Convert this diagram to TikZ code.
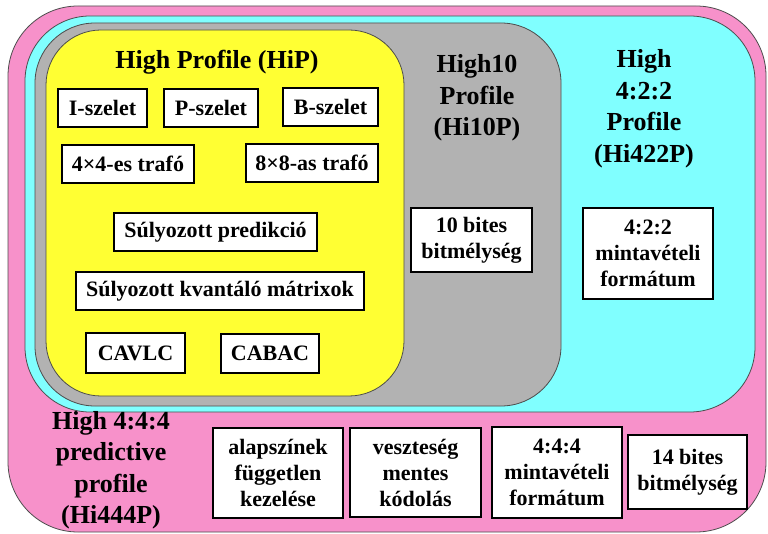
\documentclass[tikz,border=0pt]{standalone}
\usepackage{fontspec}
\setmainfont{Liberation Serif}
\definecolor{profpink}{RGB}{247,145,202}
\definecolor{profcyan}{RGB}{128,255,255}
\definecolor{profgray}{RGB}{178,178,178}
\definecolor{profyellow}{RGB}{255,255,51}
\begin{document}
\begin{tikzpicture}[x=1pt,y=-1pt,
  region/.style={draw=black!70,line width=0.8pt},
  feature/.style={draw=black,line width=2pt,fill=white,inner sep=0pt,align=center,
    font=\fontsize{22}{26}\selectfont\bfseries},
  proflabel/.style={align=center,inner sep=0pt,font=\fontsize{26}{31.5}\selectfont\bfseries}]
\useasboundingbox (0,0) rectangle (768,534);

% nested profile regions
\draw[region,fill=profpink,rounded corners=70pt] (8,6) rectangle (766,532);
\draw[region,fill=profcyan,rounded corners=65pt] (25,16) rectangle (755,412);
\draw[region,fill=profgray,rounded corners=60pt] (35,23) rectangle (561,406);
\draw[region,fill=profyellow,rounded corners=55pt] (46,30) rectangle (404,396);

% profile names
\node[proflabel] (hip) at (217,62) {High Profile (HiP)};
\node[proflabel] (hi10) at (477,98) {High10\\Profile\\(Hi10P)};
\node[proflabel] (hi422) at (644,109) {High\\4:2:2\\Profile\\(Hi422P)};
\node[proflabel] (hi444) at (111,470) {High 4:4:4\\predictive\\profile\\(Hi444P)};

% High Profile features
\node[feature,minimum width=89,minimum height=38] (islice) at (102.5,108) {I-szelet};
\node[feature,minimum width=94,minimum height=38] (pslice) at (211,108) {P-szelet};
\node[feature,minimum width=95,minimum height=38] (bslice) at (330.5,107) {B-szelet};
\node[feature,minimum width=132,minimum height=38] (t4) at (128,164) {4×4-es trafó};
\node[feature,minimum width=132,minimum height=38] (t8) at (312,163) {8×8-as trafó};
\node[feature,minimum width=203,minimum height=38] (wpred) at (215.5,232) {Súlyozott predikció};
\node[feature,minimum width=288,minimum height=38] (wquant) at (220,291) {Súlyozott kvantáló mátrixok};
\node[feature,minimum width=99,minimum height=40] (cavlc) at (135.5,353) {CAVLC};
\node[feature,minimum width=98,minimum height=39] (cabac) at (270,353.5) {CABAC};

% High10 / High 4:2:2 features
\node[feature,minimum width=121,minimum height=64] (bit10) at (471.5,240) {10 bites\\bitmélység};
\node[feature,minimum width=130,minimum height=91] (fmt422) at (648,253.5) {4:2:2\\mintavételi\\formátum};

% High 4:4:4 features
\node[feature,minimum width=130,minimum height=90] (sepcol) at (278,473) {alapszínek\\független\\kezelése};
\node[feature,minimum width=131,minimum height=89] (lossless) at (415.5,472.5) {veszteség\\mentes\\kódolás};
\node[feature,minimum width=130,minimum height=91] (fmt444) at (557,472.5) {4:4:4\\mintavételi\\formátum};
\node[feature,minimum width=119,minimum height=74] (bit14) at (687.5,472) {14 bites\\bitmélység};
\end{tikzpicture}
\end{document}
